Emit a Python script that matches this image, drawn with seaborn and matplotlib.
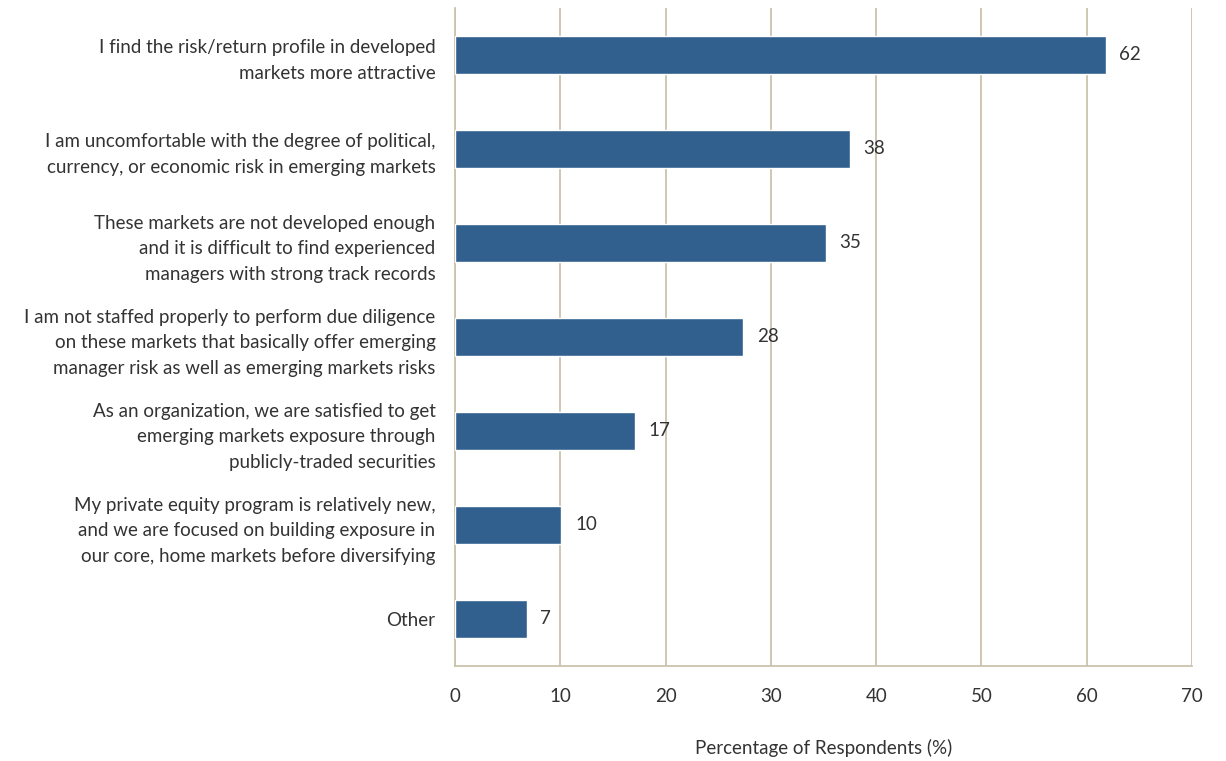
import matplotlib
matplotlib.use("Agg")
import matplotlib.pyplot as plt
import seaborn as sns
import pandas as pd

categories = [
    "I find the risk/return profile in developed\nmarkets more attractive",
    "I am uncomfortable with the degree of political,\ncurrency, or economic risk in emerging markets",
    "These markets are not developed enough\nand it is difficult to find experienced\nmanagers with strong track records",
    "I am not staffed properly to perform due diligence\non these markets that basically offer emerging\nmanager risk as well as emerging markets risks",
    "As an organization, we are satisfied to get\nemerging markets exposure through\npublicly-traded securities",
    "My private equity program is relatively new,\nand we are focused on building exposure in\nour core, home markets before diversifying",
    "Other",
]
values = [61.8, 37.5, 35.2, 27.4, 17.1, 10.1, 6.8]
value_labels = ["62", "38", "35", "28", "17", "10", "7"]
xticks = [0, 10, 20, 30, 40, 50, 60, 70]

df = pd.DataFrame({"reason": categories, "pct": values})

sns.set_theme(style="white")
plt.rcParams["font.family"] = ["Lato", "DejaVu Sans"]

grid_c = "#cdc3ad"
bar_c = "#31608e"
text_c = "#333333"

fig = plt.figure(figsize=(12.26, 7.61), dpi=100)
ax = fig.add_axes([455 / 1226, 1 - 666 / 761, (1192 - 455) / 1226, (666 - 8) / 761])

sns.barplot(data=df, x="pct", y="reason", orient="h", color=bar_c, width=0.41,
            saturation=1, ax=ax, zorder=3)

ax.set_xlim(0, 70)
ax.set_xticks(xticks)
ax.set_xticklabels([str(t) for t in xticks])
ax.set_ylim(6.5, -0.5)
ax.grid(axis="x", color=grid_c, linewidth=1.3, zorder=0)
ax.grid(axis="y", visible=False)
for s in ["top", "right"]:
    ax.spines[s].set_visible(False)
for s in ["left", "bottom"]:
    ax.spines[s].set_color(grid_c)
    ax.spines[s].set_linewidth(1.3)

fs = 13.5
ax.tick_params(axis="x", length=0, pad=16, labelsize=fs, labelcolor=text_c)
ax.tick_params(axis="y", length=0, pad=14, labelsize=fs, labelcolor=text_c)
for lab in ax.get_yticklabels():
    lab.set_horizontalalignment("right")
    lab.set_multialignment("right")
    lab.set_linespacing(1.62)

ax.set_ylabel("")
ax.set_xlabel("Percentage of Respondents (%)", fontsize=fs, color=text_c, labelpad=24)

for i, (v, lab) in enumerate(zip(values, value_labels)):
    ax.text(v + 1.3, i, lab, va="center", ha="left", fontsize=fs, color=text_c)

fig.savefig("out.png", dpi=100)
